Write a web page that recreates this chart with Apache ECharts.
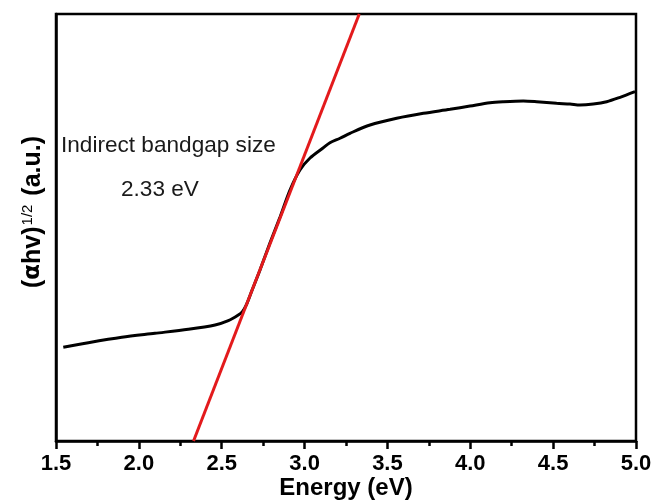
<!DOCTYPE html>
<html>
<head>
<meta charset="utf-8">
<script src="https://cdn.jsdelivr.net/npm/echarts@6/dist/echarts.min.js"></script>
<style>
html,body{margin:0;padding:0;background:#fff;}
#chart{width:654px;height:502px;}
</style>
</head>
<body>
<div id="chart"></div>
<script>
// Energy (eV) of the measured curve
var energy = [1.544, 1.695, 1.897, 2.097, 2.298, 2.460, 2.540, 2.600, 2.625, 2.650, 2.680, 2.731, 2.791, 2.852, 2.912, 2.972, 3.033, 3.111, 3.153, 3.214, 3.274, 3.395, 3.556, 3.717, 3.878, 3.998, 4.119, 4.199, 4.320, 4.401, 4.521, 4.602, 4.662, 4.742, 4.823, 4.904, 4.994];
// (alpha h nu)^(1/2), arbitrary units
var absorb = [21.94, 23.02, 24.29, 25.22, 26.16, 27.17, 28.17, 29.5, 30.3, 32.0, 35.0, 40.05, 46.37, 52.46, 58.78, 63.47, 66.28, 68.62, 69.86, 70.9, 72.06, 74.0, 75.57, 76.74, 77.68, 78.45, 79.23, 79.46, 79.63, 79.46, 79.09, 78.92, 78.69, 78.92, 79.46, 80.49, 81.8];
// Linear fit (Tauc extrapolation) endpoints
var fitEnergy = [2.33, 3.33];
var fitValue = [0, 100];
// axis ticks
var xTicks = [1.5, 2.0, 2.5, 3.0, 3.5, 4.0, 4.5, 5.0];
var bandgapLabel = 'Indirect bandgap size';
var bandgapValue = '2.33 eV';

var FONT = "'Liberation Sans', Arial, sans-serif";
var curve = energy.map(function (e, i) { return [e, absorb[i]]; });
var fit = fitEnergy.map(function (e, i) { return [e, fitValue[i]]; });

var chart = echarts.init(document.getElementById('chart'), null, {renderer: 'canvas'});
chart.setOption({
  animation: false,
  backgroundColor: '#fff',
  grid: {left: 56, right: 18, top: 14, bottom: 61, containLabel: false, outerBoundsMode: 'none',
    show: true, borderColor: '#000', borderWidth: 2.5, backgroundColor: 'transparent'},
  xAxis: {
    type: 'value',
    min: xTicks[0], max: xTicks[xTicks.length - 1], interval: 0.5,
    name: 'Energy (eV)', nameLocation: 'middle', nameGap: 35, nameMoveOverlap: false,
    nameTextStyle: {fontFamily: FONT, fontSize: 24, fontWeight: 'bold', color: '#000'},
    axisLine: {show: true, lineStyle: {color: '#000', width: 2.5}},
    axisTick: {show: true, inside: false, length: 8, lineStyle: {color: '#000', width: 2.5}},
    minorTick: {show: true, splitNumber: 2, length: 5, lineStyle: {color: '#000', width: 2.5}},
    splitLine: {show: false},
    axisLabel: {margin: 12, fontFamily: FONT, fontSize: 22, fontWeight: 'bold', color: '#000',
      formatter: function (v) { return v.toFixed(1); }}
  },
  yAxis: {
    type: 'value', min: 0, max: 100,
    axisLine: {show: true, lineStyle: {color: '#000', width: 2.5}},
    axisTick: {show: false}, axisLabel: {show: false}, splitLine: {show: false}
  },
  graphic: [
    {type: 'text', x: 33, y: 212, rotation: Math.PI / 2,
      style: {text: '{m|(}{a|α}{m|hv)}{s|1/2}{m| (a.u.)}', align: 'center', verticalAlign: 'middle',
        rich: {
          m: {fontFamily: FONT, fontSize: 25, fontWeight: 'bold', fill: '#000', color: '#000'},
          a: {fontFamily: "'DejaVu Sans', sans-serif", fontSize: 23, fontWeight: 'bold', fill: '#000', color: '#000'},
          s: {fontFamily: FONT, fontSize: 15, fontWeight: 'normal', fill: '#000', color: '#000', verticalAlign: 'top', padding: [0, 2, 0, 1]}
        }}},
    {type: 'text', x: 61, y: 146,
      style: {text: bandgapLabel, fontFamily: FONT, fontSize: 22.6, fill: '#1a1a1a', align: 'left', verticalAlign: 'middle'}},
    {type: 'text', x: 121, y: 190,
      style: {text: bandgapValue, fontFamily: FONT, fontSize: 22.6, fill: '#1a1a1a', align: 'left', verticalAlign: 'middle'}}
  ],
  series: [
    {type: 'line', data: curve, showSymbol: false, smooth: 0.3, clip: true,
      lineStyle: {color: '#000', width: 3}, z: 2},
    {type: 'line', data: fit, showSymbol: false, clip: true,
      lineStyle: {color: '#e31a1c', width: 3}, z: 3}
  ]
});
</script>
</body>
</html>
